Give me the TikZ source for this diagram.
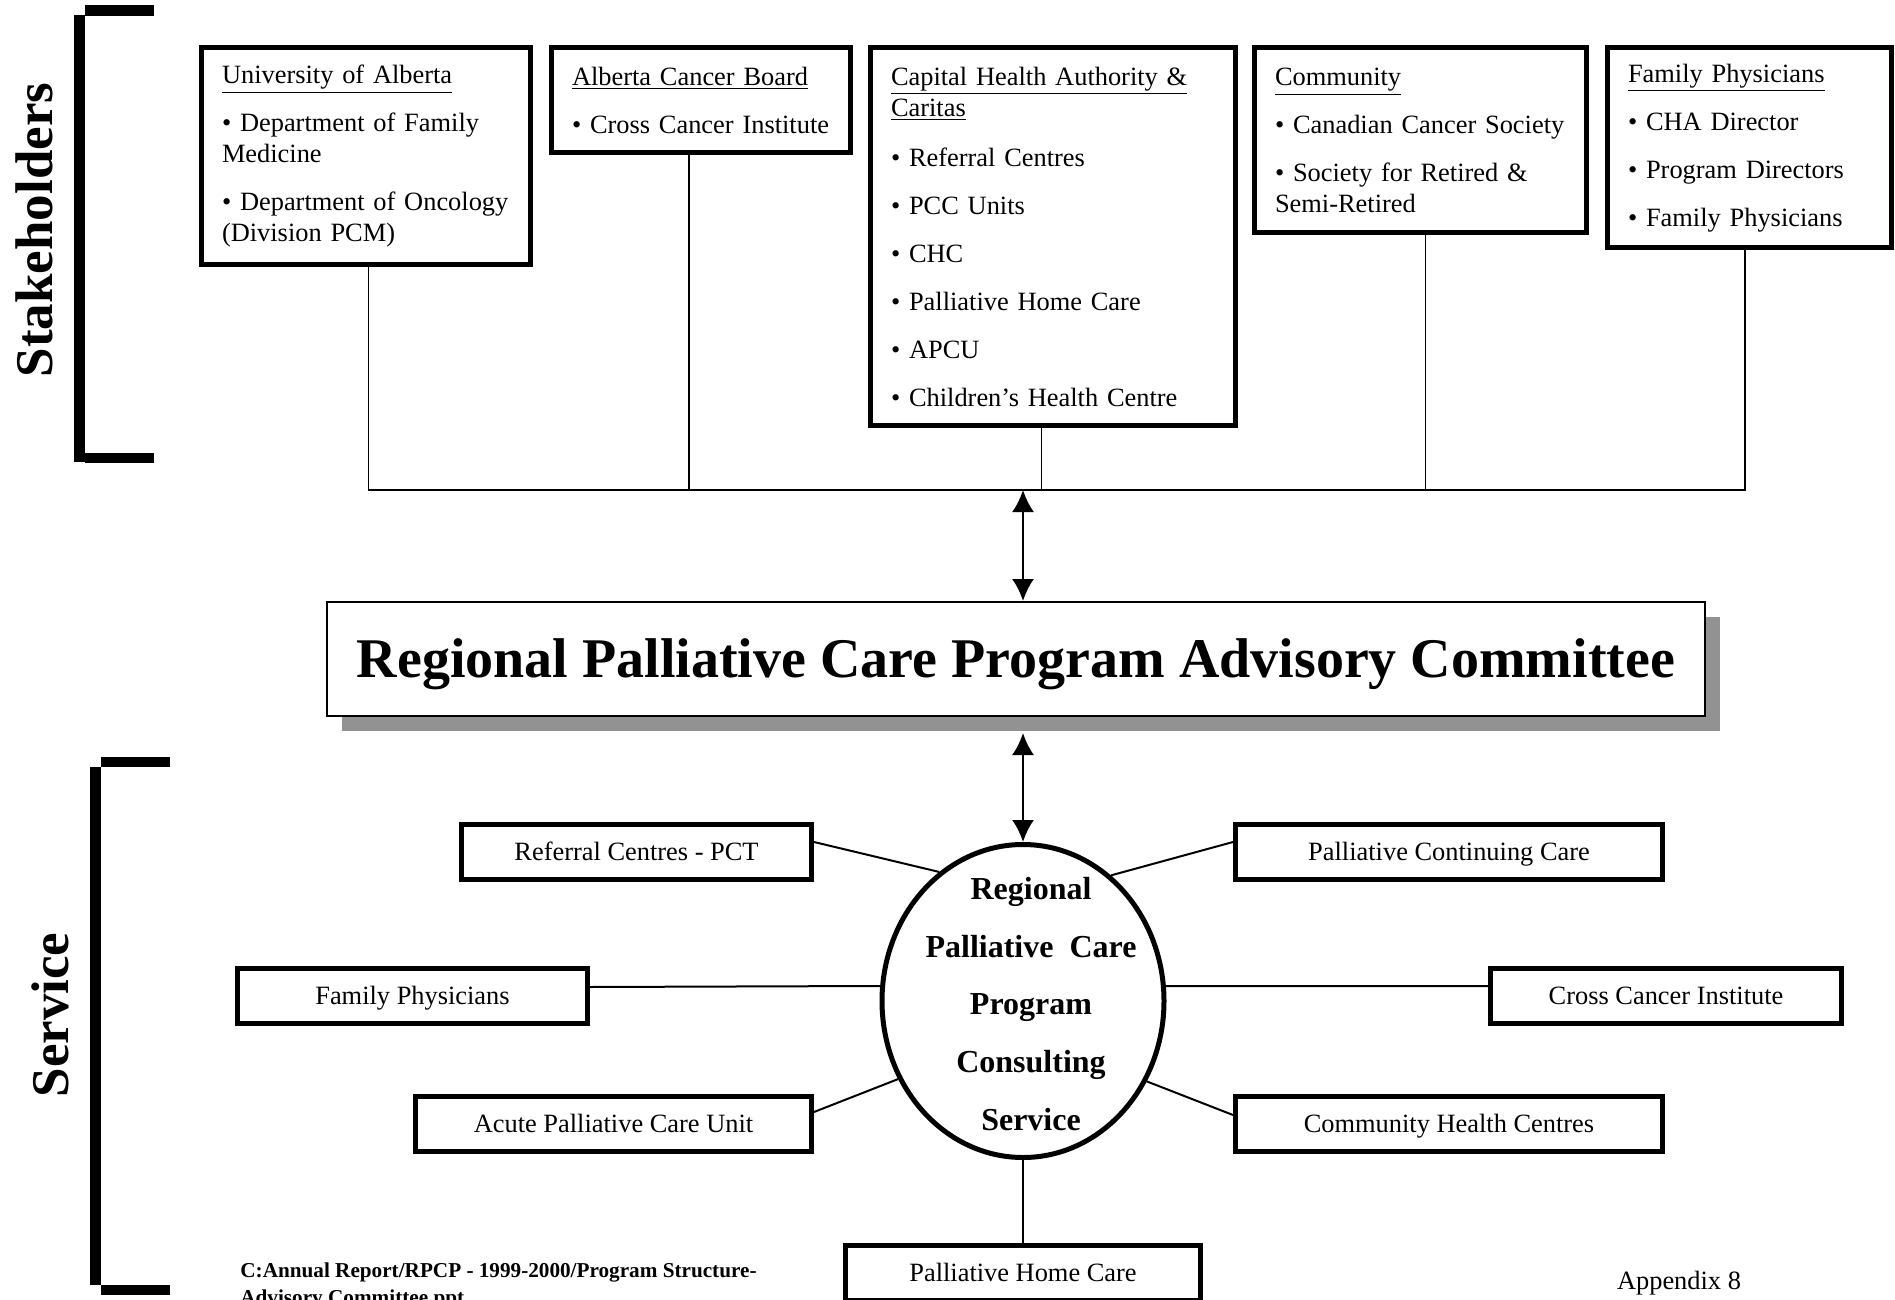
\documentclass[tikz,border=0pt]{standalone}
\usepackage{fontspec}
\setmainfont{Liberation Serif}
\usepackage{tikz}
\usetikzlibrary{arrows.meta, shapes.geometric, shadows, positioning}

\definecolor{shadowgray}{RGB}{146,146,146}

\tikzset{>={Latex[length=11pt,width=11pt]}}
\tikzset{
  stakebox/.style={draw, line width=2.5pt, anchor=north west, align=left,
    inner xsep=10.5pt, inner ysep=0pt,
    font=\fontsize{13.2pt}{15.5pt}\selectfont},
  svcbox/.style={draw, line width=2.5pt, minimum height=27.5pt, inner sep=0pt,
    text height=8.4pt, text depth=0pt,
    font=\fontsize{13.2pt}{15.5pt}\selectfont},
  stem/.style={line width=0.9pt},
  spoke/.style={line width=1pt},
  updown/.style={<->, line width=1.2pt},
  sidelabel/.style={rotate=90, font=\fontsize{26.5pt}{30pt}\selectfont\bfseries}
}
\newcommand{\gap}{\\[8.5pt]}

\begin{document}
\begin{tikzpicture}[x=0.5pt, y=-0.5pt]
  \useasboundingbox (0,0) rectangle (1895,1300);

  % brackets on the left
  \fill (74,15) rectangle (85,462);
  \fill (85,5) rectangle (154,16);
  \fill (85,453) rectangle (154,463);
  \node[sidelabel] (stakelabel) at (34,230) {Stakeholders};

  \fill (90,767) rectangle (101,1285);
  \fill (101,757) rectangle (170,767);
  \fill (101,1285) rectangle (170,1295);
  \node[sidelabel] (servicelabel) at (50,1015) {Service};

  % stakeholder boxes
  \node[stakebox, minimum width=164.5pt, minimum height=108.5pt, text width=143.5pt] (uofa) at (198.5,45.5)
    {\underline{University of Alberta}\gap
     \mbox{• Department of Family}\\Medicine\gap
     \mbox{• Department of Oncology}\\(Division PCM)};
  \node[stakebox, minimum width=149.5pt, minimum height=52.5pt, text width=128.5pt] (acb) at (548.5,45.5)
    {\underline{Alberta Cancer Board}\gap
     \mbox{• Cross Cancer Institute}};
  \node[stakebox, minimum width=182.5pt, minimum height=188.5pt, text width=161.5pt] (cha) at (867.5,45.5)
    {\underline{Capital Health Authority \&}\\\underline{Caritas}\\[9.5pt]
     • Referral Centres\gap
     • PCC Units\gap
     • CHC\gap
     • Palliative Home Care\gap
     • APCU\gap
     • Children’s Health Centre};
  \node[stakebox, minimum width=166pt, minimum height=92.5pt, text width=145pt] (comm) at (1251.5,45.5)
    {\underline{Community}\gap
     \mbox{• Canadian Cancer Society}\gap
     \mbox{• Society for Retired \&}\\Semi-Retired};
  \node[stakebox, minimum width=142pt, minimum height=100pt, text width=121pt] (famp) at (1604.5,45.5)
    {\underline{Family Physicians}\gap
     • CHA Director\gap
     • Program Directors\gap
     • Family Physicians};

  % bus joining the stakeholders
  \coordinate (bus) at (0,490);
  \draw[stem] ([xshift=1.5pt]uofa.south) |- ([xshift=-2pt]famp.south |- bus) -- ([xshift=-2pt]famp.south);
  \foreach \b/\dx in {acb/-5.75pt, cha/-5.5pt, comm/2.75pt}
    \draw[stem] ([xshift=\dx]\b.south) -- ([xshift=\dx]\b.south |- bus);

  % committee
  \node[draw, fill=white, line width=1pt, minimum width=689pt, minimum height=57pt,
    text height=18.5pt, text depth=0pt,
    font=\fontsize{28pt}{30pt}\selectfont\bfseries,
    drop shadow={shadow xshift=7.5pt, shadow yshift=-7.5pt, fill=shadowgray, opacity=1}]
    (committee) at (1016,659) {Regional Palliative Care Program Advisory Committee};

  \coordinate (hub) at (1023,490);
  \draw[updown] (hub) -- (hub |- committee.north);

  % consulting service
  \node[ellipse, draw, line width=2.5pt, fill=white, minimum width=141pt, minimum height=156.5pt] (rpcs) at (1023,1001) {};
  \node[font=\fontsize{16pt}{28.8pt}\selectfont\bfseries, align=center] (rpcstext) at (1031,1004)
    {Regional\\Palliative\ \ Care\\Program\\Consulting\\Service};
  \draw[updown] ([yshift=-8pt]rpcs.north |- committee.south) -- (rpcs.north);

  % service boxes
  \node[svcbox, minimum width=175pt] (refpct) at (636.5,852) {Referral Centres - PCT};
  \node[svcbox, minimum width=175pt] (famsvc) at (412.5,996) {Family Physicians};
  \node[svcbox, minimum width=198pt] (apcu) at (613.5,1124) {Acute Palliative Care Unit};
  \node[svcbox, minimum width=213.5pt] (pcc) at (1449,852) {Palliative Continuing Care};
  \node[svcbox, minimum width=175.5pt] (cci) at (1666,996) {Cross Cancer Institute};
  \node[svcbox, minimum width=213.5pt] (chc) at (1449,1124) {Community Health Centres};
  \node[svcbox, minimum width=177.5pt] (phc) at (1023,1273) {Palliative Home Care};

  \draw[spoke] ([yshift=5pt]refpct.east) -- (rpcs.123.6);
  \draw[spoke] ([yshift=4.5pt]famsvc.east) -- (rpcs.174.4);
  \draw[spoke] ([yshift=6pt]apcu.east) -- (rpcs.212.6);
  \draw[spoke] ([yshift=5pt]pcc.west) -- (rpcs.55.8);
  \draw[spoke] ([yshift=5pt]cci.west) -- (rpcs.6);
  \draw[spoke] ([yshift=4.5pt]chc.west) -- (rpcs.327.5);
  \draw[spoke] (rpcs.south) -- (phc.north);

  % footer
  \node[font=\fontsize{10.6pt}{13.5pt}\selectfont\bfseries, align=left, anchor=north west, inner sep=0pt]
    (filepath) at (240,1262) {C:Annual Report/RPCP - 1999-2000/Program Structure-\\Advisory Committee.ppt};
  \node[font=\fontsize{13.2pt}{15.5pt}\selectfont] (appendix) at (1679,1283) {Appendix 8};
\end{tikzpicture}
\end{document}
